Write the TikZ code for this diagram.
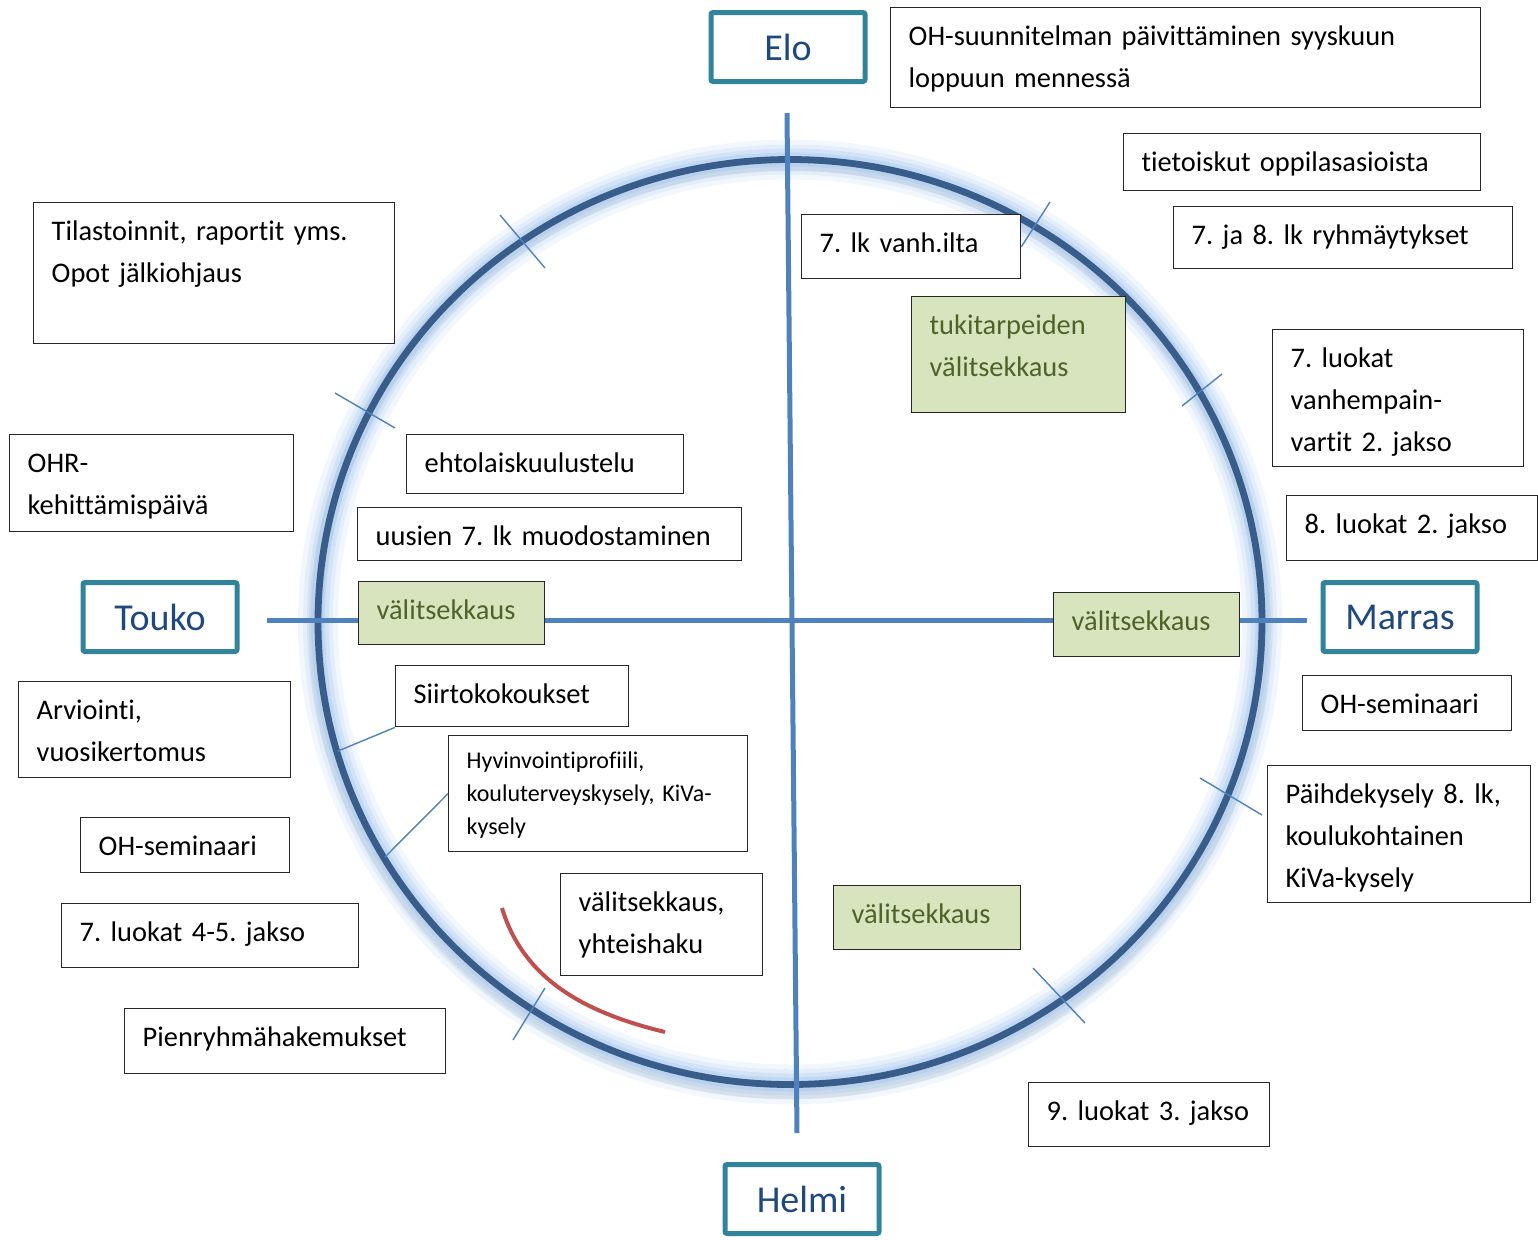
\documentclass[tikz,border=0pt]{standalone}
\usepackage{fontspec}
\setmainfont{Carlito}[Ligatures=NoCommon]
\usepackage{xcolor}
\usetikzlibrary{positioning}
\frenchspacing

\definecolor{ringblue}{RGB}{56,93,138}
\definecolor{axisblue}{RGB}{79,129,189}
\definecolor{glowblue}{RGB}{150,190,235}
\definecolor{tealframe}{RGB}{49,132,155}
\definecolor{monthblue}{RGB}{31,73,125}
\definecolor{checkfill}{RGB}{215,228,189}
\definecolor{checktext}{RGB}{79,98,40}
\definecolor{redarc}{RGB}{192,80,77}

\newcommand{\bodyfont}{\fontsize{14.2}{21}\selectfont}
\newcommand{\smallbody}{\fontsize{12}{16.5}\selectfont}
\newcommand{\monthfont}{\fontsize{19}{21}\selectfont}

\tikzstyle{note} = [rectangle, draw=black!85, line width=0.7pt, fill=white, anchor=north west, align=left, inner xsep=9pt, inner ysep=0pt, text height=19pt, font=\bodyfont]
\tikzstyle{check} = [note, fill=checkfill, text=checktext]
\tikzstyle{month} = [rectangle, draw=tealframe, line width=2.5pt, fill=white, text=monthblue, font=\monthfont, minimum width=77pt, minimum height=34.5pt, rounded corners=1pt]
\tikzstyle{axis} = [draw=axisblue, line width=2.5pt]
\tikzstyle{tick} = [draw=axisblue, line width=0.7pt]

\begin{document}
\begin{tikzpicture}[x=0.5pt, y=-0.5pt]
    \useasboundingbox (0,0) rectangle (1538,1239);

    % Ring
    \coordinate (hub) at (790,622);
    \draw[black, opacity=0.07, line width=7pt] ([yshift=-3pt]hub) ellipse [x radius=237pt, y radius=232pt];
    \foreach \w/\o in {20/0.12, 15/0.16, 11/0.22, 7/0.3}
        \draw[glowblue, line width=\w pt, opacity=\o] (hub) ellipse [x radius=236pt, y radius=231.25pt];
    \draw[ringblue, line width=3.4pt] (hub) ellipse [x radius=236pt, y radius=231.25pt];

    % Axes
    \coordinate (ytop) at (787,113);
    \coordinate (ybot) at (797,1133);
    \coordinate (xleft) at (267,620);
    \coordinate (xright) at (1307,620);
    \path [axis] (ytop) -- (ybot);
    \path [axis] (xleft) -- (xright);

    % Ticks
    \path [tick] (500,215) -- (545,268);
    \path [tick] (335,393) -- (395,428);
    \path [tick] (1182,406) -- (1222,374);
    \path [tick] (1200,778) -- (1262,815);
    \path [tick] (1033,968) -- (1085,1023);
    \path [tick] (513,1040) -- (545,988);

    % Red arc
    \draw[redarc, line width=2pt] (502,908) .. controls (525,985) and (595,1015) .. (665,1032);

    % Months
    \node [month] (elo) at (788,47) {Elo};
    \node [month] (marras) at (1400,617) {Marras};
    \node [month] (touko) at (160,617) {Touko};
    \node [month] (helmi) at (802,1199) {Helmi};

    % Nodes
    \node [note, text width=277pt, text depth=31pt] (ohs) at (890,7) {OH-suunnitelman päivittäminen syyskuun\\ loppuun mennessä};
    \node [note, text width=160.5pt, text depth=9.5pt] (tieto) at (1123,133) {tietoiskut oppilasasioista};
    \node [note, text width=151.5pt, text depth=12pt] (ryhma) at (1173,206) {7. ja 8. lk ryhmäytykset};
    \node [note, text width=91.5pt, text depth=13pt] (vanh) at (801,214) {7. lk vanh.ilta};
    \node [check, text width=89pt, text depth=39pt] (tuki) at (911,296) {tukitarpeiden\\ välitsekkaus};
    \node [note, text width=107.5pt, text depth=49.5pt] (lk7) at (1272,329) {7. luokat\\ vanhempain-\\ vartit 2. jakso};
    \node [note, text width=107.5pt, text depth=13.5pt] (lk8) at (1286,495) {8. luokat 2. jakso};
    \node [check, text width=75pt, text depth=13pt] (valr) at (1053,592) {välitsekkaus};
    \node [note, text width=86.5pt, text depth=8.5pt] (ohsemr) at (1302,675) {OH-seminaari};
    \node [note, text width=113.5pt, text depth=49.5pt] (paihde) at (1267,765) {Päihdekysely 8. lk,\\ koulukohtainen\\ KiVa-kysely};
    \node [check, text width=75.5pt, text depth=13pt] (vald) at (833,885) {välitsekkaus};
    \node [note, text width=102.5pt, text depth=13pt] (lk9) at (1028,1082) {9. luokat 3. jakso};
    \node [note, text width=162.5pt, text depth=51.5pt] (tilasto) at (33,202) {Tilastoinnit, raportit yms.\\ Opot jälkiohjaus};
    \node [note, text width=124pt, text depth=29.5pt] (ohr) at (9,434) {OHR-\\ kehittämispäivä};
    \node [note, text width=120.5pt, text depth=10.5pt] (ehto) at (406,434) {ehtolaiskuulustelu};
    \node [note, text width=174pt, text depth=7.5pt] (uusien) at (357,507) {uusien 7. lk muodostaminen};
    \node [check, text width=75pt, text depth=12.5pt] (vall) at (358,581) {välitsekkaus};
    \node [note, text width=98.5pt, text depth=11.5pt] (siirto) at (395,665) {Siirtokokoukset};
    \node [note, text width=118pt, text depth=29pt] (arvio) at (18,681) {Arviointi,\\ vuosikertomus};
    \node [note, text width=131.5pt, text height=16.5pt, text depth=41.5pt, font=\smallbody] (hyvin) at (448,735) {Hyvinvointiprofiili,\\ kouluterveyskysely, KiVa-\\ kysely};
    \node [note, text width=86.5pt, text depth=8.5pt] (ohseml) at (80,817) {OH-seminaari};
    \node [note, text width=83pt, text depth=32pt] (valyh) at (560,873) {välitsekkaus,\\ yhteishaku};
    \node [note, text width=130.5pt, text depth=13pt] (lk45) at (61,903) {7. luokat 4-5. jakso};
    \node [note, text width=142.5pt, text depth=13.5pt] (pienr) at (124,1008) {Pienryhmähakemukset};

    % Lines
    \coordinate (vanhring) at (1050,202);
    \coordinate (siirtoring) at (338,751);
    \coordinate (hyvinring) at (385,857);
    \path [tick] (vanh.east) -- (vanhring);
    \path [tick] (siirto.south west) -- (siirtoring);
    \path [tick] (hyvin.west) -- (hyvinring);

\end{tikzpicture}
\end{document}
